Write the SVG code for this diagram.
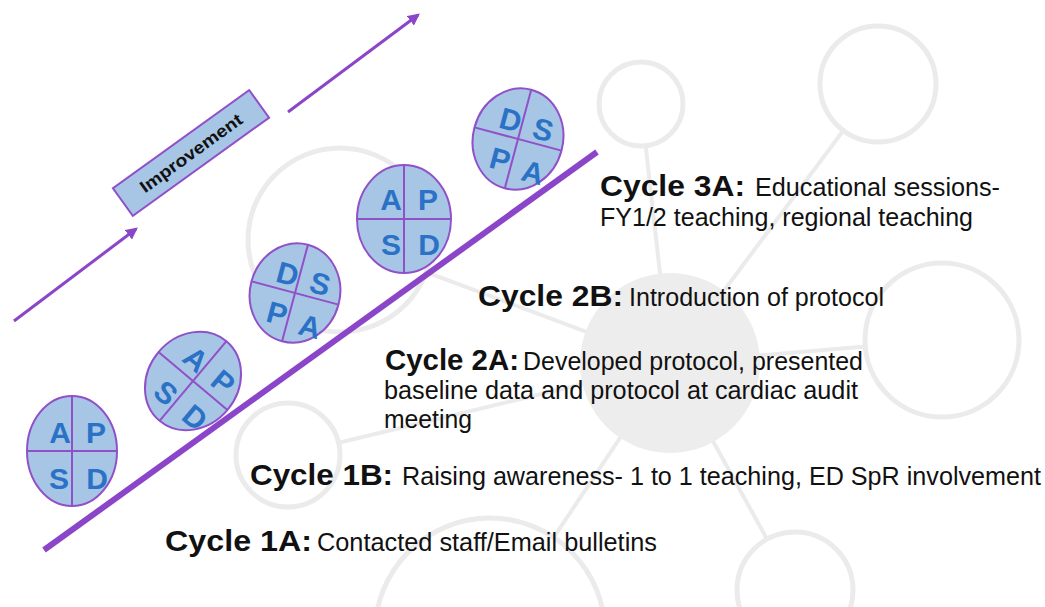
<svg xmlns="http://www.w3.org/2000/svg" width="1045" height="607" viewBox="0 0 1045 607">
<defs>
<style>
.bgc{fill:#ffffff;stroke:#ebebeb;stroke-width:5}
.bgl{stroke:#ebebeb;stroke-width:4;fill:none}
.pd{fill:#a7c5e5;stroke:#9050c8;stroke-width:2}
.dv{stroke:#9050c8;stroke-width:2}
.lt{font-family:"Liberation Sans",Arial,sans-serif;font-weight:bold;font-size:30px;fill:#2a72c6;text-anchor:middle}
.hd{font-family:"Liberation Sans",Arial,sans-serif;font-weight:bold;font-size:30px;fill:#111}
.ds{font-family:"Liberation Sans",Arial,sans-serif;font-size:25px;fill:#111}
.arr{stroke:#8b45c8;stroke-width:3;fill:none}
</style>
<marker id="ah" viewBox="0 0 10 10" refX="8" refY="5" markerWidth="4" markerHeight="4" orient="auto" markerUnits="strokeWidth">
<path d="M0,0 L10,5 L0,10 z" fill="#8b45c8"/>
</marker>
</defs>
<rect width="1045" height="607" fill="#ffffff"/>
<g id="background">
<line class="bgl" x1="670" y1="363" x2="641" y2="104"/>
<line class="bgl" x1="670" y1="363" x2="878" y2="84"/>
<line class="bgl" x1="670" y1="363" x2="942" y2="340"/>
<line class="bgl" x1="670" y1="363" x2="795" y2="590"/>
<line class="bgl" x1="670" y1="363" x2="490" y2="633"/>
<line class="bgl" x1="670" y1="363" x2="288" y2="455"/>
<line class="bgl" x1="670" y1="363" x2="340" y2="240"/>
<circle cx="670" cy="363" r="90" fill="#ededed"/>
<circle class="bgc" cx="641" cy="104" r="42"/>
<circle class="bgc" cx="878" cy="84" r="58"/>
<circle class="bgc" cx="942" cy="340" r="77"/>
<circle class="bgc" cx="795" cy="590" r="58"/>
<circle class="bgc" cx="490" cy="633" r="115"/>
<circle class="bgc" cx="288" cy="455" r="52"/>
<circle class="bgc" cx="340" cy="240" r="92"/>
</g>
<g id="connectors">
<line x1="44" y1="550" x2="597" y2="152" stroke="#8b45c8" stroke-width="6"/>
<line class="arr" x1="14" y1="321" x2="136" y2="229" marker-end="url(#ah)"/>
<line class="arr" x1="288" y1="112" x2="418" y2="15" marker-end="url(#ah)"/>
</g>
<g id="improvement" transform="translate(191,153) rotate(-35.8)">
<rect x="-84" y="-17" width="168" height="34" fill="#a7c5e5" stroke="#9050c8" stroke-width="2"/>
<text x="0" y="6" font-family="Liberation Sans, Arial, sans-serif" font-size="17" font-weight="bold" fill="#111" text-anchor="middle" textLength="122" lengthAdjust="spacingAndGlyphs">Improvement</text>
</g>
<g id="pdsa1" transform="translate(72,451)">
<ellipse class="pd" cx="0" cy="0" rx="45" ry="55"/>
<line class="dv" x1="0" y1="-55" x2="0" y2="55"/>
<line class="dv" x1="-45" y1="0" x2="45" y2="0"/>
<text class="lt" x="-12" y="-8">A</text><text class="lt" x="24" y="-8">P</text>
<text class="lt" x="-13" y="38">S</text><text class="lt" x="25" y="38">D</text>
</g>
<g id="pdsa2" transform="translate(193,381) rotate(40)">
<ellipse class="pd" cx="0" cy="0" rx="45" ry="52"/>
<line class="dv" x1="0" y1="-52" x2="0" y2="52"/>
<line class="dv" x1="-45" y1="0" x2="45" y2="0"/>
<text class="lt" x="-12" y="-8">A</text><text class="lt" x="24" y="-8">P</text>
<text class="lt" x="-13" y="37">S</text><text class="lt" x="25" y="37">D</text>
</g>
<g id="pdsa3" transform="translate(295,293) rotate(15)">
<ellipse class="pd" cx="0" cy="0" rx="45" ry="50"/>
<line class="dv" x1="0" y1="-50" x2="0" y2="50"/>
<line class="dv" x1="-45" y1="0" x2="45" y2="0"/>
<text class="lt" x="-12" y="-6">D</text><text class="lt" x="22" y="-5">S</text>
<text class="lt" x="-12" y="35">P</text><text class="lt" x="23" y="39">A</text>
</g>
<g id="pdsa4" transform="translate(404,219)">
<ellipse class="pd" cx="0" cy="0" rx="47" ry="54"/>
<line class="dv" x1="0" y1="-54" x2="0" y2="54"/>
<line class="dv" x1="-47" y1="0" x2="47" y2="0"/>
<text class="lt" x="-13" y="-9">A</text><text class="lt" x="24" y="-9">P</text>
<text class="lt" x="-13" y="36">S</text><text class="lt" x="25" y="36">D</text>
</g>
<g id="pdsa5" transform="translate(518,139) rotate(15)">
<ellipse class="pd" cx="0" cy="0" rx="45" ry="51"/>
<line class="dv" x1="0" y1="-51" x2="0" y2="51"/>
<line class="dv" x1="-45" y1="0" x2="45" y2="0"/>
<text class="lt" x="-12" y="-6">D</text><text class="lt" x="22" y="-5">S</text>
<text class="lt" x="-12" y="35">P</text><text class="lt" x="23" y="39">A</text>
</g>
<g id="cycle3a">
<text class="hd" x="600" y="196" textLength="145" lengthAdjust="spacingAndGlyphs">Cycle 3A:</text>
<text class="ds" x="755" y="196" textLength="245" lengthAdjust="spacingAndGlyphs">Educational sessions-</text>
<text class="ds" x="600" y="226" textLength="373" lengthAdjust="spacingAndGlyphs">FY1/2 teaching, regional teaching</text>
</g>
<g id="cycle2b">
<text class="hd" x="478" y="306" textLength="145" lengthAdjust="spacingAndGlyphs">Cycle 2B:</text>
<text class="ds" x="629" y="306" textLength="255" lengthAdjust="spacingAndGlyphs">Introduction of protocol</text>
</g>
<g id="cycle2a">
<text class="hd" x="385" y="370" textLength="134" lengthAdjust="spacingAndGlyphs">Cycle 2A:</text>
<text class="ds" x="523" y="370" textLength="340" lengthAdjust="spacingAndGlyphs">Developed protocol, presented</text>
<text class="ds" x="384" y="399" textLength="474" lengthAdjust="spacingAndGlyphs">baseline data and protocol at cardiac audit</text>
<text class="ds" x="384" y="428" textLength="88" lengthAdjust="spacingAndGlyphs">meeting</text>
</g>
<g id="cycle1b">
<text class="hd" x="250" y="485" textLength="143" lengthAdjust="spacingAndGlyphs">Cycle 1B:</text>
<text class="ds" x="402" y="485" textLength="639" lengthAdjust="spacingAndGlyphs">Raising awareness- 1 to 1 teaching, ED SpR involvement</text>
</g>
<g id="cycle1a">
<text class="hd" x="165" y="551" textLength="147" lengthAdjust="spacingAndGlyphs">Cycle 1A:</text>
<text class="ds" x="317" y="551" textLength="340" lengthAdjust="spacingAndGlyphs">Contacted staff/Email bulletins</text>
</g>
</svg>
